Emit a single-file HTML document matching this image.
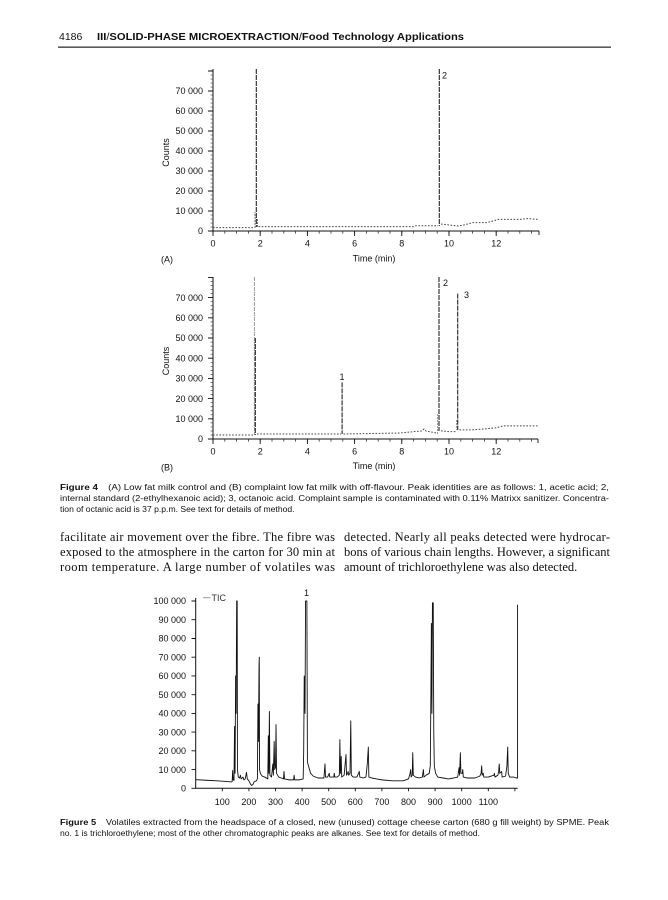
<!DOCTYPE html>
<html>
<head>
<meta charset="utf-8">
<style>
html,body{margin:0;padding:0;background:#fff;}
body{width:668px;height:900px;overflow:hidden;position:relative;}
svg{display:block;position:absolute;left:0;top:0;}
</style>
</head>
<body>
<svg width="668" height="900" viewBox="0 0 668 900" xmlns="http://www.w3.org/2000/svg">
<rect x="0" y="0" width="668" height="900" fill="#fff"/>

<!-- Header -->
<g font-family="'Liberation Sans', Arial, sans-serif" fill="#111">
  <text x="59" y="40" font-size="10.5">4186</text>
  <text x="97" y="40" font-size="10.5" textLength="367" lengthAdjust="spacingAndGlyphs"><tspan font-weight="bold">III</tspan>/<tspan font-weight="bold">SOLID-PHASE MICROEXTRACTION</tspan>/<tspan font-weight="bold">Food Technology Applications</tspan></text>
</g>
<rect x="58" y="46.5" width="553" height="1.3" fill="#333"/>

<!-- ================= Chart A ================= -->
<g font-family="'Liberation Sans', Arial, sans-serif" font-size="9" fill="#111">
  <path d="M213 69V231H539" stroke="#111" stroke-width="1" fill="none"/>
  <line x1="211.8" y1="231.4" x2="211.8" y2="69" stroke="#444" stroke-width="2.4" stroke-dasharray="0.7 3.3"/>
  <line x1="212.6" y1="232.3" x2="536" y2="232.3" stroke="#333" stroke-width="2.6" stroke-dasharray="0.8 11"/>
  <path d="M208 231h5M208 211h5M208 191h5M208 171h5M208 151h5M208 131h5M208 111h5M208 91h5M208 71h5
           M213 231v5M260.2 231v5M307.4 231v5M354.6 231v5M401.8 231v5M449 231v5M496.2 231v5M539 231v4"
        stroke="#111" stroke-width="0.9" fill="none"/>
  <g text-anchor="end">
    <text x="203" y="234.2">0</text>
    <text x="203" y="214.2">10 000</text>
    <text x="203" y="194.2">20 000</text>
    <text x="203" y="174.2">30 000</text>
    <text x="203" y="154.2">40 000</text>
    <text x="203" y="134.2">50 000</text>
    <text x="203" y="114.2">60 000</text>
    <text x="203" y="94.2">70 000</text>
  </g>
  <g text-anchor="middle">
    <text x="213" y="246.5">0</text>
    <text x="260.2" y="246.5">2</text>
    <text x="307.4" y="246.5">4</text>
    <text x="354.6" y="246.5">6</text>
    <text x="401.8" y="246.5">8</text>
    <text x="449" y="246.5">10</text>
    <text x="496.2" y="246.5">12</text>
    <text x="374" y="261.5">Time (min)</text>
  </g>
  <text transform="translate(169,152.5) rotate(-90)" text-anchor="middle">Counts</text>
  <text x="161" y="262.5">(A)</text>
  <text x="442" y="78.5">2</text>
  <path d="M213 227.6H254.5M258.5 226.6H413.6L416 225.8H438M441 224L449 225L458.4 226L465.5 224.6L472.6 222.6L486.8 222.6L491.5 221.4L498.6 219.4L519.8 219.4L526.9 218.6L538.7 219.4"
        stroke="#444" stroke-width="1" fill="none" stroke-dasharray="1.6 1.6"/>
  <path d="M256.3 69V227M439.3 69V226" stroke="#222" stroke-width="1.1" fill="none" stroke-dasharray="5 1"/>
  <path d="M255 228V212M257.6 227V218" stroke="#555" stroke-width="0.8" fill="none" stroke-dasharray="2 1"/>
</g>

<!-- ================= Chart B ================= -->
<g font-family="'Liberation Sans', Arial, sans-serif" font-size="9" fill="#111">
  <path d="M213 277V439H538" stroke="#111" stroke-width="1" fill="none"/>
  <line x1="211.8" y1="439.4" x2="211.8" y2="277" stroke="#444" stroke-width="2.4" stroke-dasharray="0.7 3.34"/>
  <line x1="212.6" y1="440.3" x2="536" y2="440.3" stroke="#333" stroke-width="2.6" stroke-dasharray="0.8 11"/>
  <path d="M208 439h5M208 418.8h5M208 398.6h5M208 378.4h5M208 358.2h5M208 338h5M208 317.8h5M208 297.6h5M208 277.4h5
           M213 439v5M260.2 439v5M307.4 439v5M354.6 439v5M401.8 439v5M449 439v5M496.2 439v5M538 439v4"
        stroke="#111" stroke-width="0.9" fill="none"/>
  <g text-anchor="end">
    <text x="203" y="442.2">0</text>
    <text x="203" y="422">10 000</text>
    <text x="203" y="401.8">20 000</text>
    <text x="203" y="381.6">30 000</text>
    <text x="203" y="361.4">40 000</text>
    <text x="203" y="341.2">50 000</text>
    <text x="203" y="321">60 000</text>
    <text x="203" y="300.8">70 000</text>
  </g>
  <g text-anchor="middle">
    <text x="213" y="454.5">0</text>
    <text x="260.2" y="454.5">2</text>
    <text x="307.4" y="454.5">4</text>
    <text x="354.6" y="454.5">6</text>
    <text x="401.8" y="454.5">8</text>
    <text x="449" y="454.5">10</text>
    <text x="496.2" y="454.5">12</text>
    <text x="374" y="469">Time (min)</text>
    <text x="342" y="380">1</text>
  </g>
  <text transform="translate(169,361) rotate(-90)" text-anchor="middle">Counts</text>
  <text x="161" y="470.5">(B)</text>
  <text x="443" y="286">2</text>
  <text x="464" y="298">3</text>
  <path d="M213 435H253.5M257 434H341M343.5 434L400 433L410 432L422 431L424 429L426 431L436.5 433M441 430.9L449 431.6L456 431.6M459.5 429.9L472.6 429.9L484.4 428.9L496 427.9L503 425.9L538 425.9"
        stroke="#444" stroke-width="1" fill="none" stroke-dasharray="1.6 1.6"/>
  <path d="M254.4 277V435" stroke="#999" stroke-width="1" fill="none" stroke-dasharray="4 1"/>
  <path d="M255.3 338V435M342.1 382.4V434M439 277V431M457.7 293.6V430" stroke="#222" stroke-width="1.1" fill="none" stroke-dasharray="5 1"/>
  <path d="M437.6 414V434M456.6 420V430" stroke="#888" stroke-width="0.9" fill="none" stroke-dasharray="2 1"/>
</g>

<!-- Figure 4 caption -->
<g font-family="'Liberation Sans', Arial, sans-serif" font-size="8.6" fill="#111">
  <text x="60" y="490" textLength="549" lengthAdjust="spacingAndGlyphs"><tspan font-weight="bold">Figure 4</tspan><tspan dx="9">(A) Low fat milk control and (B)  complaint low fat milk with off-flavour. Peak identities are as follows: 1, acetic acid; 2,</tspan></text>
  <text x="60" y="501" textLength="549" lengthAdjust="spacingAndGlyphs">internal standard (2-ethylhexanoic acid); 3, octanoic acid. Complaint sample is contaminated with 0.11% Matrixx sanitizer. Concentra-</text>
  <text x="60" y="512">tion of octanic acid is 37 p.p.m. See text for details of method.</text>
</g>

<!-- Body text -->
<g font-family="'Liberation Serif', 'Times New Roman', serif" font-size="12.5" fill="#111">
  <text x="60" y="541" textLength="275" lengthAdjust="spacing">facilitate air movement over the fibre. The fibre was</text>
  <text x="60" y="556" textLength="275" lengthAdjust="spacing">exposed to the atmosphere in the carton for 30 min at</text>
  <text x="60" y="571" textLength="275" lengthAdjust="spacing">room temperature. A large number of volatiles was</text>
  <text x="344" y="541" textLength="266" lengthAdjust="spacing">detected. Nearly all peaks detected were hydrocar-</text>
  <text x="344" y="556" textLength="266" lengthAdjust="spacing">bons of various chain lengths. However, a significant</text>
  <text x="344" y="571">amount of trichloroethylene was also detected.</text>
</g>

<!-- ================= Figure 5 chart ================= -->
<g font-family="'Liberation Sans', Arial, sans-serif" font-size="9" fill="#111">
  <path d="M195.7 598V788.3H517.7" stroke="#111" stroke-width="1" fill="none"/>
  <path d="M191.5 788.3h4.2M191.5 769.6h4.2M191.5 750.8h4.2M191.5 732.1h4.2M191.5 713.4h4.2M191.5 694.7h4.2M191.5 675.9h4.2M191.5 657.2h4.2M191.5 638.5h4.2M191.5 619.7h4.2M191.5 601h4.2
           M222.3 788.3v3M248.9 788.3v3M275.5 788.3v3M302.1 788.3v3M328.7 788.3v3M355.3 788.3v3M381.9 788.3v3M408.5 788.3v3M435.1 788.3v3M461.7 788.3v3M488.3 788.3v3M514.9 788.3v3"
        stroke="#111" stroke-width="0.9" fill="none"/>
  <g text-anchor="end">
    <text x="186" y="791.5">0</text>
    <text x="186" y="772.8">10 000</text>
    <text x="186" y="754">20 000</text>
    <text x="186" y="735.3">30 000</text>
    <text x="186" y="716.6">40 000</text>
    <text x="186" y="697.9">50 000</text>
    <text x="186" y="679.1">60 000</text>
    <text x="186" y="660.4">70 000</text>
    <text x="186" y="641.7">80 000</text>
    <text x="186" y="622.9">90 000</text>
    <text x="186" y="604.2">100 000</text>
  </g>
  <g text-anchor="middle">
    <text x="222.3" y="805">100</text>
    <text x="248.9" y="805">200</text>
    <text x="275.5" y="805">300</text>
    <text x="302.1" y="805">400</text>
    <text x="328.7" y="805">500</text>
    <text x="355.3" y="805">600</text>
    <text x="381.9" y="805">700</text>
    <text x="408.5" y="805">800</text>
    <text x="435.1" y="805">900</text>
    <text x="461.7" y="805">1000</text>
    <text x="488.3" y="805">1100</text>
    <text x="306.5" y="596">1</text>
  </g>
  <line x1="203" y1="597.7" x2="210.5" y2="597.7" stroke="#999" stroke-width="1"/>
  <text x="211.5" y="601" fill="#333">TIC</text>
  <path transform="translate(195.7 788.3) scale(0.266 -1.873)" vector-effect="non-scaling-stroke" stroke="#111" stroke-width="0.9" fill="none" stroke-linejoin="round"
        d="M0 4.6L40 4.3L80 4L120 3.6L134 3.4L137 3.5L139 9.5L141 4.5L144 4.2L146 33L148 8L150 60L152 40L154 100L156 100L157 10L160 6L165 5.5L168 7L171 5L178 6L181 4.5L186 5L191 8.5L194 5L200 4L205 2.5L210 1.5L215 2L220 3.5L228 4L232 5L234 45L236 25L238 65L239 70L240 10L243 8L250 6.5L260 6L271 5L273 28L275 8L277 41L279 7L285 6L290 13L292 7L295 25L297 10L300 11L302 34L304 8L312 6L322 5.5L330 5L332 9L334 5L350 4.5L368 4.5L370 7L372 4.5L390 4.5L404 5L406 20L408 60L411 40L413 100L418 100L420 14L424 12L432 8L442 6.5L460 5.5L482 5.5L486 13L488 6L496 6L502 8L504 6L519 6L521 8L523 6L532 6L540 7L542 26L544 8L547 17L549 6L558 7L565 18L567 7L571 8L573 9L575 7L580 8L583 36L585 7L592 6L606 6L615 9L617 6L630 5.5L640 6L645 13L649 22L651 6L662 5.5L680 5L700 4.5L740 4L780 4L800 5L806 8L808 10L810 6L814 7L816 19L818 7L826 6L840 5.5L852 6L856 10L858 6L866 7L878 8L882 12L884 47L886 88L888 40L890 99L893 99L895 30L897 12L902 8L910 6L930 5.5L950 5L970 5.5L985 6L990 11L992 7L995 19L997 8L1002 8L1004 10L1006 6L1020 5.5L1050 5.5L1068 6.5L1073 8L1075 12L1077 7L1081 8L1083 6L1100 6L1121 7L1123 8L1125 6L1136 7L1139 9L1141 13L1143 8L1150 9L1152 6L1165 6.5L1170 12L1173 22L1175 8L1180 6L1195 6L1205 5.5L1210 5.5L1210 98"/>
</g>

<!-- Figure 5 caption -->
<g font-family="'Liberation Sans', Arial, sans-serif" font-size="8.6" fill="#111">
  <text x="60" y="825" textLength="549" lengthAdjust="spacingAndGlyphs"><tspan font-weight="bold">Figure 5</tspan><tspan dx="9">Volatiles extracted from the headspace of a closed, new (unused) cottage cheese carton (680 g fill weight) by SPME. Peak</tspan></text>
  <text x="60" y="836">no. 1 is trichloroethylene; most of the other chromatographic peaks are alkanes. See text for details of method.</text>
</g>
</svg>
</body>
</html>
